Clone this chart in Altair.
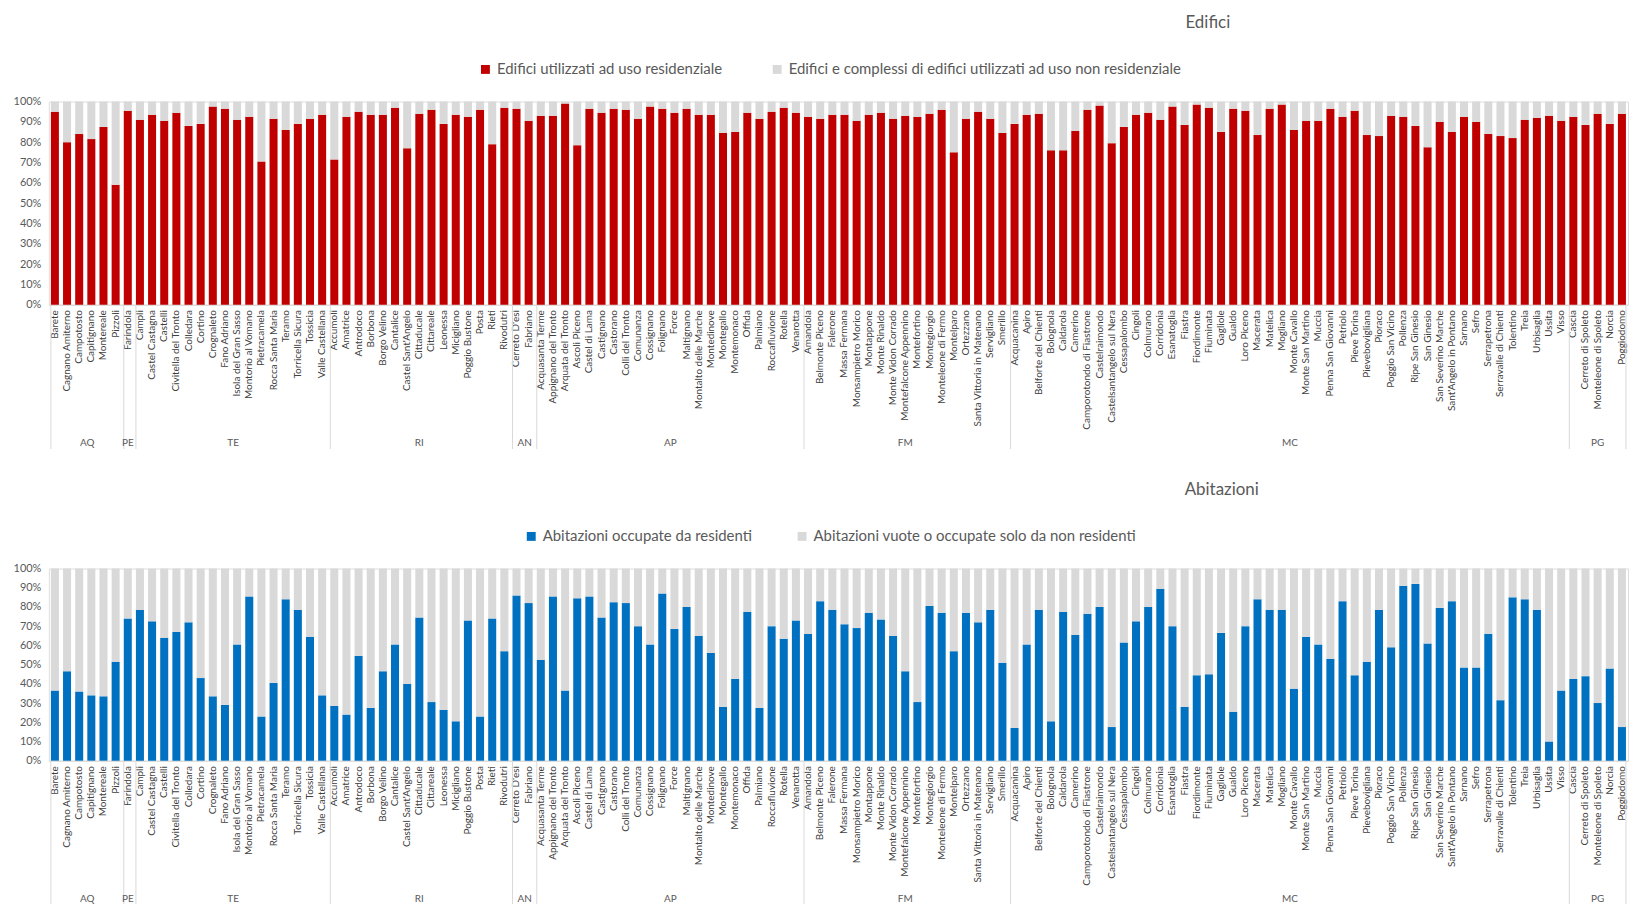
import altair as alt
import pandas as pd

# ---------------- data ----------------
provinces = ["AQ", "PE", "TE", "RI", "AN", "AP", "FM", "MC", "PG"]

comuni_AQ = ["Barete", "Cagnano Amiterno", "Campotosto", "Capitignano", "Montereale", "Pizzoli"]
comuni_PE = ["Farindola"]
comuni_TE = ["Campli", "Castel Castagna", "Castelli", "Civitella del Tronto", "Colledara", "Cortino",
             "Crognaleto", "Fano Adriano", "Isola del Gran Sasso", "Montorio al Vomano", "Pietracamela",
             "Rocca Santa Maria", "Teramo", "Torricella Sicura", "Tossicia", "Valle Castellana"]
comuni_RI = ["Accumoli", "Amatrice", "Antrodoco", "Borbona", "Borgo Velino", "Cantalice",
             "Castel Sant'Angelo", "Cittaducale", "Cittareale", "Leonessa", "Micigliano",
             "Poggio Bustone", "Posta", "Rieti", "Rivodutri"]
comuni_AN = ["Cerreto D'esi", "Fabriano"]
comuni_AP = ["Acquasanta Terme", "Appignano del Tronto", "Arquata del Tronto", "Ascoli Piceno",
             "Castel di Lama", "Castignano", "Castorano", "Colli del Tronto", "Comunanza", "Cossignano",
             "Folignano", "Force", "Maltignano", "Montalto delle Marche", "Montedinove", "Montegallo",
             "Montemonaco", "Offida", "Palmiano", "Roccafluvione", "Rotella", "Venarotta"]
comuni_FM = ["Amandola", "Belmonte Piceno", "Falerone", "Massa Fermana", "Monsampietro Morico",
             "Montappone", "Monte Rinaldo", "Monte Vidon Corrado", "Montefalcone Appennino",
             "Montefortino", "Montegiorgio", "Monteleone di Fermo", "Montelparo", "Ortezzano",
             "Santa Vittoria in Matenano", "Servigliano", "Smerillo"]
comuni_MC = ["Acquacanina", "Apiro", "Belforte del Chienti", "Bolognola", "Caldarola", "Camerino",
             "Camporotondo di Fiastrone", "Castelraimondo", "Castelsantangelo sul Nera", "Cessapalombo",
             "Cingoli", "Colmurano", "Corridonia", "Esanatoglia", "Fiastra", "Fiordimonte", "Fiuminata",
             "Gagliole", "Gualdo", "Loro Piceno", "Macerata", "Matelica", "Mogliano", "Monte Cavallo",
             "Monte San Martino", "Muccia", "Penna San Giovanni", "Petriolo", "Pieve Torina",
             "Pievebovigliana", "Pioraco", "Poggio San Vicino", "Pollenza", "Ripe San Ginesio",
             "San Ginesio", "San Severino Marche", "Sant'Angelo in Pontano", "Sarnano", "Sefro",
             "Serrapetrona", "Serravalle di Chienti", "Tolentino", "Treia", "Urbisaglia", "Ussita", "Visso"]
comuni_PG = ["Cascia", "Cerreto di Spoleto", "Monteleone di Spoleto", "Norcia", "Poggiodomo"]

groups = [comuni_AQ, comuni_PE, comuni_TE, comuni_RI, comuni_AN, comuni_AP, comuni_FM, comuni_MC, comuni_PG]

# % Edifici utilizzati ad uso residenziale
edifici_res = [
    95, 80, 84, 81.5, 87.5, 59,
    95.5,
    91, 93.5, 90.5, 94.5, 88, 89, 97.5, 96.5, 91, 92.5, 70.5, 91.5, 86, 89, 91.5, 93.5,
    71.5, 92.5, 95, 93.5, 93.5, 97, 77, 94, 96, 89, 93.5, 92.5, 96, 79, 97,
    96.5, 90.5,
    93, 93, 99, 78.5, 96.5, 94.5, 96.5, 96, 91.5, 97.5, 96.5, 94.5, 96.5, 93.5, 93.5, 84.5,
    85, 94.5, 91.5, 95, 97, 94.5,
    92.5, 91.5, 93.5, 93.5, 90.5, 93.5, 94.5, 91.5, 93, 92.5, 94, 96, 75, 91.5, 95, 91.5, 84.5,
    89, 93.5, 94, 76, 76, 85.5, 96, 98, 79.5, 87.5, 93.5, 94.5, 91, 97.5, 88.5, 98.5, 97,
    85, 96.5, 95.5, 83.5, 96.5, 98.5, 86, 90.5, 90.5, 96.5, 92.5, 95.5, 83.5, 83, 93, 92.5,
    88, 77.5, 90, 85, 92.5, 90, 84, 83, 82, 91, 92, 93, 90.5,
    92.5, 88.5, 94, 89, 94,
]

# % Abitazioni occupate da residenti
abitazioni_occ = [
    36.5, 46.5, 36, 34, 33.5, 51.5,
    74,
    78.5, 72.5, 64, 67, 72, 43, 33.5, 29, 60.5, 85.5, 23, 40.5, 84, 78.5, 64.5, 34,
    28.5, 24, 54.5, 27.5, 46.5, 60.5, 40, 74.5, 30.5, 26.5, 20.5, 73, 23, 74, 57,
    86, 82,
    52.5, 85.5, 36.5, 84.5, 85.5, 74.5, 82.5, 82, 70, 60.5, 87, 68.5, 80, 65, 56, 28,
    42.5, 77.5, 27.5, 70, 63.5, 73,
    66, 83, 78.5, 71, 69, 77, 73.5, 65, 46.5, 30.5, 80.5, 77, 57, 77, 72, 78.5, 51,
    17, 60.5, 78.5, 20.5, 77.5, 65.5, 76.5, 80, 17.5, 61.5, 72.5, 80, 89.5, 70, 28, 44.5, 45,
    66.5, 25.5, 70, 84, 78.5, 78.5, 37.5, 64.5, 60.5, 53, 83, 44.5, 51.5, 78.5, 59, 91,
    92, 61, 79.5, 83, 48.5, 48.5, 66, 31.5, 85, 84, 78.5, 10, 36.5,
    42.5, 44, 30, 48, 17.5,
]

y_ticks = [0, 10, 20, 30, 40, 50, 60, 70, 80, 90, 100]

comuni = [c for g in groups for c in g]
prov_of = [p for p, g in zip(provinces, groups) for _ in g]
assert len(comuni) == len(edifici_res) == len(abitazioni_occ)

RED = "#C00000"
BLUE = "#0070C0"
GRAY = "#D9D9D9"
SEP = "#D9D9D9"
TXT = "#595959"
FONT = "Lato"
W = 1586

# helper tables derived from the category lists
starts_df = pd.DataFrame({"comune": [g[0] for g in groups]})
end_df = pd.DataFrame({"comune": [groups[-1][-1]]})
odd_df = pd.DataFrame({"comune": [g[len(g) // 2] for g in groups if len(g) % 2 == 1],
                       "prov": [p for p, g in zip(provinces, groups) if len(g) % 2 == 1]})
even_df = pd.DataFrame({"comune": [g[len(g) // 2] for g in groups if len(g) % 2 == 0],
                        "prov": [p for p, g in zip(provinces, groups) if len(g) % 2 == 0]})


def panel(values, cat_a, cat_b, color_a, title, title_dx, title_offset, height, legend_x, col_pad):
    rows = []
    for c, p, v in zip(comuni, prov_of, values):
        rows.append({"comune": c, "prov": p, "cat": cat_a, "val": v, "ord": 0})
        rows.append({"comune": c, "prov": p, "cat": cat_b, "val": round(100 - v, 2), "ord": 1})
    df = pd.DataFrame(rows)

    bars = alt.Chart(df).mark_bar().encode(
        x=alt.X("comune:N", sort=comuni, title=None,
                scale=alt.Scale(paddingInner=0.34, paddingOuter=0.17),
                axis=alt.Axis(labelAngle=-90, ticks=False, domain=True, domainColor=SEP,
                              labelFontSize=10, labelColor="#404040", labelPadding=5,
                              labelFont=FONT, labelLimit=200)),
        y=alt.Y("val:Q", stack="zero", title=None,
                scale=alt.Scale(domain=[0, 100], nice=False),
                axis=alt.Axis(values=y_ticks, labelExpr="datum.value + '%'", grid=False,
                              ticks=False, domain=False, labelFontSize=11, labelColor=TXT,
                              labelPadding=8, labelFont=FONT)),
        color=alt.Color("cat:N", scale=alt.Scale(domain=[cat_a, cat_b], range=[color_a, GRAY]),
                        legend=alt.Legend(title=None, orient="none", direction="horizontal",
                                          legendX=legend_x, legendY=-40, symbolType="square",
                                          symbolSize=80, symbolStrokeWidth=0,
                                          labelFontSize=15, labelColor=TXT, labelFont=FONT,
                                          columnPadding=col_pad, labelLimit=600)),
        order=alt.Order("ord:Q"),
    )

    xs = dict(sort=comuni, title=None)
    sep_start = alt.Chart(starts_df).mark_rule(color=SEP, strokeWidth=1).encode(
        x=alt.X("comune:N", bandPosition=0, **xs),
        y=alt.value(height + 1), y2=alt.value(height + 145))
    sep_end = alt.Chart(end_df).mark_rule(color=SEP, strokeWidth=1).encode(
        x=alt.X("comune:N", bandPosition=1, **xs),
        y=alt.value(height + 1), y2=alt.value(height + 145))
    lab_odd = alt.Chart(odd_df).mark_text(fontSize=10, color=TXT, font=FONT, baseline="middle").encode(
        x=alt.X("comune:N", bandPosition=0.5, **xs),
        y=alt.value(height + 139), text="prov:N")
    lab_even = alt.Chart(even_df).mark_text(fontSize=10, color=TXT, font=FONT, baseline="middle").encode(
        x=alt.X("comune:N", bandPosition=0, **xs),
        y=alt.value(height + 139), text="prov:N")

    return alt.layer(bars, sep_start, sep_end, lab_odd, lab_even).properties(
        width=W, height=height,
        title=alt.TitleParams(title, anchor="middle", dx=title_dx, fontSize=17, color=TXT,
                              font=FONT, fontWeight="normal", offset=title_offset),
    )


top = panel(edifici_res, "Edifici utilizzati ad uso residenziale",
            "Edifici e complessi di edifici utilizzati ad uso non residenziale",
            RED, "Edifici", 371, 30, 204, 431, 47)
bottom = panel(abitazioni_occ, "Abitazioni occupate da residenti",
               "Abitazioni vuote o occupate solo da non residenti",
               BLUE, "Abitazioni", 385, 30, 193, 477, 42)

chart = alt.vconcat(top, bottom, spacing=30).resolve_scale(
    color="independent"
).resolve_legend(color="independent").properties(
    padding={"left": 4, "top": 3, "right": 0, "bottom": 0}
).configure_view(stroke=None).configure(font=FONT)

chart.save("out.html", embed_options={"renderer": "svg", "actions": False})
